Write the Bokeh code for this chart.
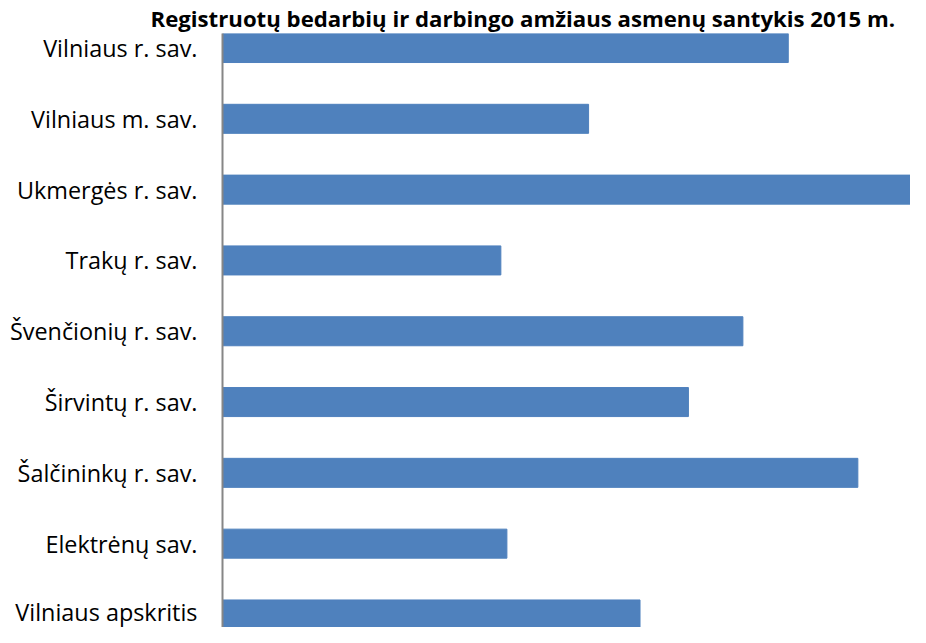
from bokeh.plotting import figure
from bokeh.models import Range1d, FixedTicker
from bokeh.embed import file_html
from bokeh.resources import INLINE

categories = ["Vilniaus r. sav.", "Vilniaus m. sav.", "Ukmergės r. sav.", "Trakų r. sav.",
              "Švenčionių r. sav.", "Širvintų r. sav.", "Šalčininkų r. sav.", "Elektrėnų sav.",
              "Vilniaus apskritis"]
values = [9.35, 6.05, 11.6, 4.6, 8.6, 7.7, 10.5, 4.7, 6.9]
title_text = "Registruotų bedarbių ir darbingo amžiaus  asmenų santykis 2015 m."

n = len(categories)
ypos = [n - 1 - i for i in range(n)]

p = figure(width=910, height=627, output_backend="svg", toolbar_location=None,
           x_range=Range1d(0, 11.37), y_range=Range1d(-0.184, 8.205),
           min_border_left=222, min_border_right=0, min_border_top=33, min_border_bottom=0)
p.hbar(y=ypos, right=values, left=0, height=0.41, color="#4F81BD")

p.title.text = title_text
p.title.align = "left"
p.title.offset = -72
p.title.standoff = 0
p.title.text_font = "Open Sans"
p.title.text_font_style = "bold"
p.title.text_font_size = "22.2px"
p.title.text_color = "#000000"

p.xaxis.visible = False
p.grid.visible = False
p.outline_line_color = None
p.yaxis.ticker = FixedTicker(ticks=ypos)
p.yaxis.major_label_overrides = {y: c for y, c in zip(ypos, categories)}
p.yaxis.major_tick_line_color = None
p.yaxis.minor_tick_line_color = None
p.yaxis.axis_line_color = "#868686"
p.yaxis.axis_line_width = 2
p.yaxis.major_label_text_font = "Open Sans"
p.yaxis.major_label_text_font_size = "23.4px"
p.yaxis.major_label_text_color = "#000000"
p.yaxis.major_label_standoff = 19

open("out.html", "w").write(file_html(p, INLINE))
